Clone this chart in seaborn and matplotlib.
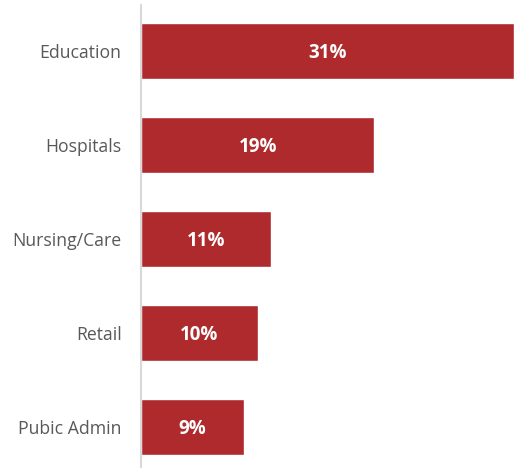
import pandas as pd
import matplotlib.pyplot as plt
import seaborn as sns

# Data
sectors = ['Education', 'Hospitals', 'Nursing/Care', 'Retail', 'Pubic Admin']
shares = [31.0, 19.4, 10.8, 9.7, 8.6]

df = pd.DataFrame({'sector': sectors, 'share': shares})

sns.set_style('white')
plt.rcParams['font.family'] = ['Open Sans', 'DejaVu Sans']

fig = plt.figure(figsize=(5.14, 4.68), dpi=100)
ax = fig.add_axes([141 / 514, 0, 1 - 141 / 514, 1 - 5 / 468])

sns.barplot(data=df, x='share', y='sector', color='#AE2A2D', width=0.6,
            saturation=1, ax=ax)

# Value labels in the middle of each bar
for bar, val in zip(ax.patches, df['share']):
    ax.text(bar.get_x() + bar.get_width() / 2,
            bar.get_y() + bar.get_height() / 2 + 0.02,
            f'{val:.0f}%', ha='center', va='center',
            color='white', fontsize=13.5, fontweight='bold')

ax.set_xlim(0, 31.0)
ax.set_ylim(4.44, -0.49)
ax.set_xlabel('')
ax.set_ylabel('')
ax.set_xticks([])
ax.tick_params(axis='y', length=0, pad=14, labelsize=12.7, labelcolor='#595959')

for side in ['top', 'right', 'bottom']:
    ax.spines[side].set_visible(False)
ax.spines['left'].set_color('#D9D9D9')
ax.spines['left'].set_linewidth(1.5)

plt.savefig('out.png', dpi=100)
